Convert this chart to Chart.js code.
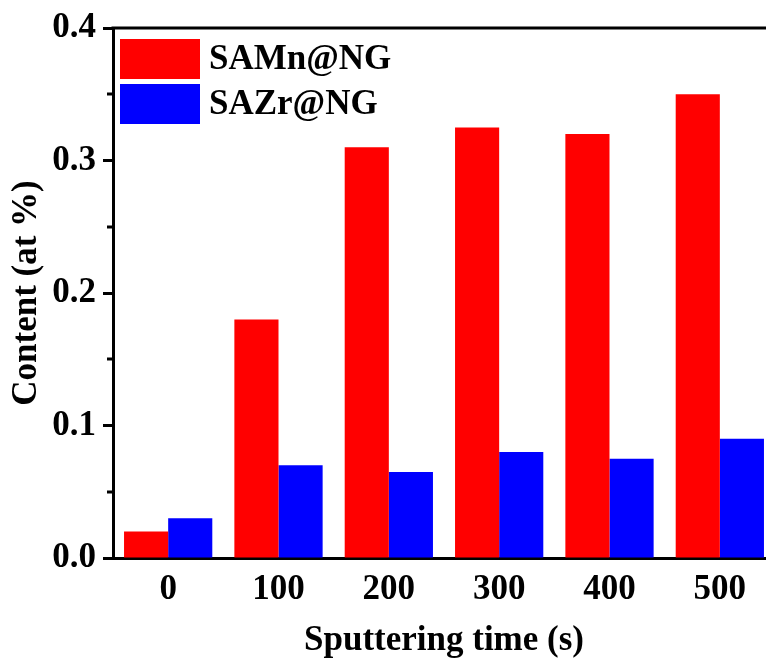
<!DOCTYPE html>
<html>
<head>
<meta charset="utf-8">
<script src="https://cdn.jsdelivr.net/npm/chart.js@4"></script>
<style>
  html, body { margin: 0; padding: 0; background: #fff; overflow: hidden; }
  #wrap { width: 780px; height: 663px; }
</style>
</head>
<body>
<div id="wrap"><canvas id="graph" width="780" height="663"></canvas></div>
<script>
const times = ['0', '100', '200', '300', '400', '500']
const samnContent = [0.02, 0.18, 0.31, 0.325, 0.32, 0.35]
const sazrContent = [0.03, 0.07, 0.065, 0.08, 0.075, 0.09]
const seriesNames = ['SAMn@NG', 'SAZr@NG']

const FONT = 'Liberation Serif, Times New Roman, serif'

// closes the frame on top and adds the short minor ticks on the y axis
const framePlugin = {
  id: 'frame',
  afterDraw: (chart) => {
    const { ctx, chartArea, scales } = chart
    ctx.save()
    ctx.strokeStyle = '#000'
    ctx.lineWidth = 3
    ctx.beginPath()
    ctx.moveTo(chartArea.left - 1.5, chartArea.top)
    ctx.lineTo(chartArea.right, chartArea.top)
    ctx.stroke()

    const y = scales.y
    y.ticks.forEach((t, i) => {
      if (i % 2 === 1) {
        const py = Math.round(y.getPixelForValue(t.value))
        ctx.beginPath()
        ctx.moveTo(chartArea.left - 6, py)
        ctx.lineTo(chartArea.left, py)
        ctx.stroke()
      }
    })
    ctx.restore()
  }
}

// legend boxes inside the plot, top left
const boxLegend = {
  id: 'boxLegend',
  afterDraw: (chart) => {
    const { ctx, chartArea } = chart
    ctx.save()
    ctx.font = 'bold 35px ' + FONT
    ctx.textBaseline = 'middle'
    chart.data.datasets.forEach((ds, i) => {
      const x = chartArea.left + 7
      const y = chartArea.top + 11 + i * 45
      ctx.fillStyle = ds.backgroundColor
      ctx.fillRect(x, y, 80, 40)
      ctx.fillStyle = '#000'
      ctx.fillText(ds.label, x + 89, y + 21)
    })
    ctx.restore()
  }
}

new Chart('graph', {
  type: 'bar',
  data: {
    labels: times,
    datasets: [
      { label: seriesNames[0], data: samnContent, backgroundColor: '#ff0000', borderWidth: 0 },
      { label: seriesNames[1], data: sazrContent, backgroundColor: '#0000ff', borderWidth: 0 }
    ]
  },
  options: {
    responsive: false,
    animation: false,
    layout: { padding: { top: 27, right: 5, left: 0, bottom: 0 } },
    plugins: {
      legend: { display: false },
      tooltip: { enabled: false }
    },
    datasets: {
      bar: { categoryPercentage: 0.8, barPercentage: 1.0 }
    },
    scales: {
      x: {
        grid: { display: false, drawTicks: false },
        border: { color: '#000', width: 3 },
        ticks: { color: '#000', padding: 11, font: { family: FONT, size: 35, weight: 'bold' } },
        title: {
          display: true,
          text: 'Sputtering time (s)',
          color: '#000',
          padding: { top: 0, bottom: 1 },
          font: { family: FONT, size: 35, weight: 'bold' }
        },
        afterFit: (scale) => { scale.height = 105 }
      },
      y: {
        min: 0,
        max: 0.4,
        grid: {
          drawOnChartArea: false,
          tickLength: 10,
          tickWidth: 3,
          tickColor: (c) => (c.index % 2 === 0 ? '#000' : 'rgba(0,0,0,0)')
        },
        border: { color: '#000', width: 3 },
        ticks: {
          stepSize: 0.05,
          color: '#000',
          padding: 7,
          font: { family: FONT, size: 35, weight: 'bold' },
          callback: (v, i) => (i % 2 === 0 ? v.toFixed(1) : '')
        },
        title: {
          display: true,
          text: 'Content (at %)',
          color: '#000',
          padding: { top: 6, bottom: 0 },
          font: { family: FONT, size: 35, weight: 'bold' }
        },
        afterFit: (scale) => { scale.width = 113 }
      }
    }
  },
  plugins: [framePlugin, boxLegend]
})
</script>
</body>
</html>
